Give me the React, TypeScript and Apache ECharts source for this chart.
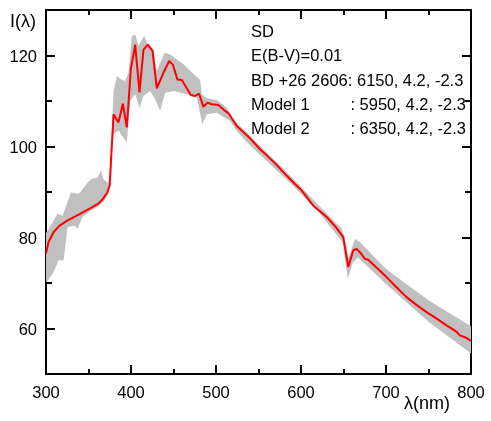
import React, { useEffect, useRef } from "react";
import * as echarts from "echarts";

// Observed spectrum (red line): [wavelength nm, intensity]
const observedSD: number[][] = [
  [300, 76.5], [303, 79.0], [309, 81.2], [316, 82.6], [325, 83.7], [340, 85.2],
  [354, 86.6], [362, 87.5], [367, 88.5], [372, 89.8], [375, 91.5], [376.5, 97],
  [379.5, 107.1], [385.3, 105.3], [390.4, 109.4], [395.1, 104.2], [399.8, 117.0],
  [404.9, 122.4], [410, 111.9], [414.7, 121.3], [419.9, 122.4], [425.3, 121.0],
  [430.4, 112.8], [438.2, 116.2], [444.9, 118.8], [449.2, 118.0], [454.7, 114.7],
  [459.8, 114.6], [470.4, 111.3], [475.4, 111.1], [480.1, 111.6], [485.2, 108.7],
  [489.9, 109.6], [495, 109.3], [502.8, 109.1], [509.5, 108.0], [514.6, 107.3],
  [524.4, 104.5], [540, 101.8], [551.8, 99.4], [560, 98.0], [570, 96.2], [580, 94.2],
  [591, 92.1], [600, 90.5], [614.5, 87.0], [630.2, 84.5], [640, 82.5], [649.7, 80.1],
  [655.6, 73.5], [661.5, 77.2], [665.5, 77.5], [670, 76.6], [675.2, 75.3], [679, 75.1],
  [690, 73.2], [700.7, 71.3], [710, 69.5], [724.2, 66.9], [735, 65.3], [747.7, 63.6],
  [760, 62.1], [771.2, 60.7], [782.9, 59.3], [786.8, 58.5], [795, 57.9], [800, 57.3],
];

// Model envelope (gray band): upper and lower edges
const bandUpper: number[][] = [
  [300, 81.0], [302, 81.5], [313.6, 85.2], [319.5, 84.8], [329.4, 89.9], [337, 89.6],
  [340, 89.9], [348.9, 92.1], [354, 92.9], [360.6, 93.2], [364.6, 94.7], [367.7, 92.8],
  [372.4, 92.1], [375.5, 92.5], [378.5, 108], [379.5, 112.2], [383.4, 115.5], [388, 114.8],
  [393.2, 114.4], [397, 116.2], [401, 124.3], [405, 124.6], [408.8, 122.1], [415.5, 124.3],
  [420.6, 122.1], [426.4, 121.3], [430.4, 116.6], [439.4, 120.6], [446, 120.2],
  [461.7, 118.1], [481.3, 114.6], [483.3, 111.5], [489.2, 110.6], [500.9, 110.2],
  [512.7, 108.5], [520.5, 106.0], [536.2, 103.1], [550, 100.5], [591, 92.9], [620, 87.2],
  [647.8, 81.9], [650.5, 80.6], [656, 75.5], [663.5, 79.7], [669.3, 79.0], [700, 73.1],
  [750, 66.2], [800, 60.5],
];
const bandLower: number[][] = [
  [300, 70.4], [301, 70.2], [309, 72.4], [314.8, 75.0], [320.7, 75.0], [325.4, 82.3],
  [333.3, 82.6], [337, 81.9], [343, 84.5], [352.8, 85.9], [362.6, 87.0], [368.5, 88.1],
  [372.4, 89.6], [375, 94], [377.5, 102.4], [385.3, 103.5], [395.1, 100.9], [399, 110.0],
  [405, 111.5], [410, 108.4], [414.7, 111.1], [422.6, 112.2], [428.4, 110.4],
  [434.3, 107.8], [440.2, 111.8], [450, 112.2], [465.7, 111.5], [477.4, 110.7],
  [484, 104.9], [489.2, 107.1], [500.9, 107.4], [516.6, 105.6], [524.4, 103.4],
  [536.2, 101.0], [550, 98.5], [591, 91.3], [620, 85.7], [649, 79.0], [655, 71.0],
  [661, 74.5], [667, 75.6], [700, 69.8], [750, 61.5], [800, 54.5],
];

const yMajorTicks = [60, 80, 100, 120];
const yMinorTicks = [50, 70, 90, 110, 130];

const legendLines = ["SD", "E(B-V)=0.01", "BD +26 2606: 6150, 4.2, -2.3"];
const modelNames = ["Model 1", "Model 2"];
const modelValues = [": 5950, 4.2, -2.3", ": 6350, 4.2, -2.3"];

const FONT = "'Liberation Sans', Arial, Helvetica, sans-serif";

const ls = () => ({ color: "#000", width: 2 });

export default function App() {
  const ref = useRef<HTMLDivElement>(null);
  useEffect(() => {
    if (!ref.current) return;
    const chart = echarts.init(ref.current, undefined, { renderer: "svg" });
    const makeX = (pos: string, labels: boolean) => ({
      type: "value",
      position: pos,
      min: 300,
      max: 800,
      interval: 100,
      axisLine: { show: true, onZero: false, lineStyle: ls() },
      axisTick: { show: true, inside: true, length: 9, lineStyle: ls() },
      minorTick: { show: true, splitNumber: 2, length: 5, lineStyle: ls() },
      splitLine: { show: false },
      minorSplitLine: { show: false },
      axisLabel: labels
        ? { show: true, color: "#000", fontSize: 16.5, fontFamily: FONT, margin: 9 }
        : { show: false },
    });
    const yAxes: any[] = [];
    for (const pos of ["left", "right"]) {
      yAxes.push({
        type: "value",
        position: pos,
        min: 50,
        max: 130,
        interval: 10,
        splitLine: { show: false },
        axisLine: { show: true, onZero: false, lineStyle: ls() },
        axisTick: { show: true, inside: true, length: 9, lineStyle: ls(), customValues: yMajorTicks },
        axisLabel: pos === "left"
          ? { show: true, customValues: yMajorTicks, color: "#000", fontSize: 16.5, fontFamily: FONT, margin: 9 }
          : { show: false },
      });
      yAxes.push({
        type: "value",
        position: pos,
        min: 50,
        max: 130,
        interval: 10,
        splitLine: { show: false },
        axisLine: { show: false },
        axisTick: { show: true, inside: true, length: 6, lineStyle: ls(), customValues: yMinorTicks },
        axisLabel: { show: false },
      });
    }
    const graphics: any[] = [
      { type: "text", left: 10, top: 12, style: { text: "I(λ)", font: `18px ${FONT}`, fill: "#000" } },
      { type: "text", left: 404, top: 394, style: { text: "λ(nm)", font: `18px ${FONT}`, fill: "#000" } },
    ];
    legendLines.forEach((t, i) => {
      graphics.push({ type: "text", x: 251, y: 31 + i * 24.3, style: { text: t, font: `16.5px ${FONT}`, fill: "#000", verticalAlign: "middle" } });
    });
    modelNames.forEach((t, i) => {
      const y = 31 + (i + 3) * 24.3;
      graphics.push({ type: "text", x: 251, y, style: { text: t, font: `16.5px ${FONT}`, fill: "#000", verticalAlign: "middle" } });
      graphics.push({ type: "text", x: 466, y, style: { text: modelValues[i], font: `16.5px ${FONT}`, fill: "#000", verticalAlign: "middle", align: "right" } });
    });

    chart.setOption({
      animation: false,
      grid: { left: 46, right: 20, top: 10, bottom: 47 },
      xAxis: [makeX("bottom", true), makeX("top", false)],
      yAxis: yAxes,
      series: [
        {
          type: "custom",
          xAxisIndex: 0,
          yAxisIndex: 0,
          data: [[300, 50]],
          clip: true,
          z: 1,
          renderItem: (params: any, api: any) => {
            if (params.dataIndex !== 0) return null;
            const pts = bandUpper.map((p) => api.coord(p));
            const low = bandLower.slice().reverse().map((p) => api.coord(p));
            return {
              type: "polygon",
              shape: { points: pts.concat(low) },
              style: { fill: "#c0c0c0", stroke: "none" },
            };
          },
        },
        {
          type: "line",
          xAxisIndex: 0,
          yAxisIndex: 0,
          data: observedSD,
          showSymbol: false,
          z: 3,
          lineStyle: { color: "#ff0000", width: 2 },
        },
      ],
      graphic: graphics,
    });
    return () => chart.dispose();
  }, []);
  return <div ref={ref} style={{ position: "fixed", left: 0, top: 0, width: 491, height: 421 }} />;
}
